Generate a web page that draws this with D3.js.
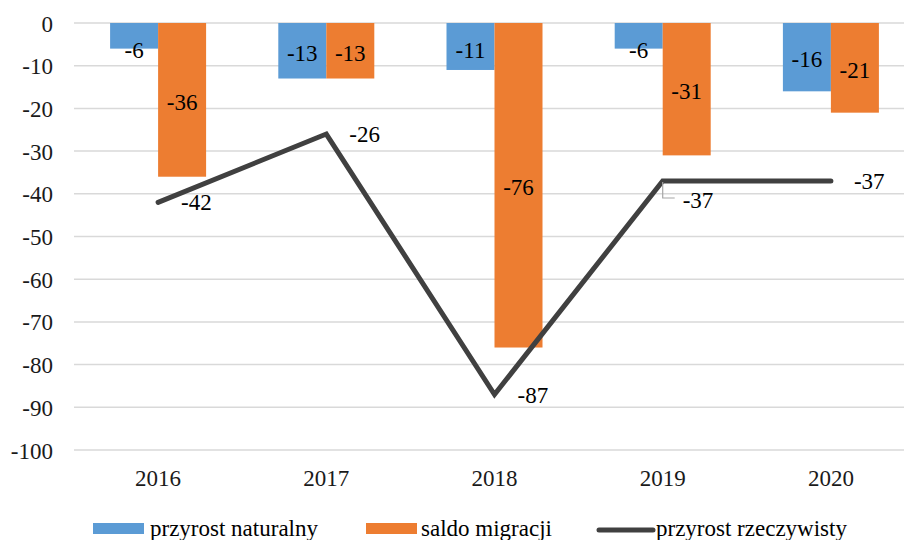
<!DOCTYPE html>
<html>
<head>
<meta charset="utf-8">
<script src="https://cdn.jsdelivr.net/npm/d3@7"></script>
<style>
  html, body { margin: 0; padding: 0; background: #fff; }
  svg { display: block; overflow: hidden; }
</style>
</head>
<body>
<svg id="chart" width="904" height="540"></svg>
<script>
const years = ["2016", "2017", "2018", "2019", "2020"];
const naturalny = [-6, -13, -11, -6, -16];
const migracji = [-36, -13, -76, -31, -21];
const rzeczywisty = [-42, -26, -87, -37, -37];
const seriesNames = ["przyrost naturalny", "saldo migracji", "przyrost rzeczywisty"];
const yTicks = [0, -10, -20, -30, -40, -50, -60, -70, -80, -90, -100];

const colors = { nat: "#5b9bd5", mig: "#ed7d31", line: "#404040", grid: "#d9d9d9" };
const FONT = "'Liberation Serif', 'Tinos', 'DejaVu Serif', 'Times New Roman', serif";
const fmt = v => String(v); // hyphen-minus as in the reference
const svg = d3.select("#chart").attr("font-family", FONT);
const fontSize = 23;

const plotLeft = 74, step = 168.2;
const x = d3.scaleBand().domain(years).range([plotLeft, plotLeft + step * years.length]).padding(0);
const groupW = 96;
const xs = d3.scaleBand().domain(["nat", "mig"]).range([0, groupW]);
const off = (x.bandwidth() - groupW) / 2;
const y = d3.scaleLinear().domain([-100, 0]).range([450, 23]);

// gridlines
svg.append("g").selectAll("line").data(yTicks).join("line")
  .attr("x1", plotLeft).attr("x2", 904)
  .attr("y1", d => y(d)).attr("y2", d => y(d))
  .attr("stroke", colors.grid).attr("stroke-width", 1.5);

// y axis labels
const yAxis = d3.axisLeft(y).tickValues(yTicks).tickSize(0).tickPadding(0).tickFormat(fmt);
const ga = svg.append("g").attr("transform", "translate(53,0)").call(yAxis);
ga.attr("font-family", FONT).attr("font-size", fontSize);
ga.select(".domain").remove();
ga.selectAll("text").attr("fill", "#1a1a1a").attr("dy", "0.35em");

// x axis labels
const xAxis = d3.axisBottom(x).tickSize(0).tickPadding(0);
const gx = svg.append("g").attr("transform", "translate(0,478)").call(xAxis);
gx.attr("font-family", FONT).attr("font-size", fontSize);
gx.select(".domain").remove();
gx.selectAll("text").attr("fill", "#1a1a1a").attr("dy", "0.35em");

// bars
const barData = [];
years.forEach((yr, i) => {
  barData.push({ yr, key: "nat", v: naturalny[i] });
  barData.push({ yr, key: "mig", v: migracji[i] });
});
svg.append("g").selectAll("rect").data(barData).join("rect")
  .attr("x", d => x(d.yr) + off + xs(d.key))
  .attr("width", xs.bandwidth())
  .attr("y", y(0))
  .attr("height", d => y(d.v) - y(0))
  .attr("fill", d => colors[d.key]);

// bar labels
svg.append("g").attr("font-family", FONT).selectAll("text").data(barData).join("text")
  .attr("x", d => x(d.yr) + off + xs(d.key) + xs.bandwidth() / 2)
  .attr("y", d => Math.max((y(0) + y(d.v)) / 2 + 2, y(0) + 27))
  .attr("dy", "0.35em")
  .attr("text-anchor", "middle")
  .attr("font-size", fontSize).attr("fill", "#000")
  .text(d => fmt(d.v));

// line
const cx = yr => x(yr) + x.bandwidth() / 2;
const lineGen = d3.line().x((d, i) => cx(years[i])).y(d => y(d));
svg.append("path").datum(rzeczywisty)
  .attr("d", lineGen).attr("fill", "none")
  .attr("stroke", colors.line).attr("stroke-width", 5)
  .attr("stroke-linejoin", "miter").attr("stroke-linecap", "round");

// line labels (2019 label displaced downward with leader)
const lineLabels = svg.append("g").attr("font-family", FONT);
rzeczywisty.forEach((v, i) => {
  const px = cx(years[i]), py = y(v);
  let lx = px + 23, ly = py;
  if (i === 3) {
    lx = px + 20; ly = py + 19;
    lineLabels.append("path")
      .attr("d", `M${px},${py + 1}V${ly - 2}H${px + 12}`)
      .attr("fill", "none").attr("stroke", "#a6a6a6").attr("stroke-width", 1.2);
  }
  lineLabels.append("text")
    .attr("x", lx).attr("y", ly).attr("dy", "0.35em")
    .attr("font-size", fontSize).attr("fill", "#000")
    .text(fmt(v));
});

// legend
const lg = svg.append("g").attr("font-family", FONT);
const legendItems = [
  { name: seriesNames[0], type: "rect", color: colors.nat, x0: 93, x1: 144, tx: 150 },
  { name: seriesNames[1], type: "rect", color: colors.mig, x0: 366, x1: 417, tx: 421 },
  { name: seriesNames[2], type: "line", color: colors.line, x0: 599, x1: 653, tx: 656 }
];
legendItems.forEach(it => {
  if (it.type === "rect") {
    lg.append("rect").attr("x", it.x0).attr("y", 523).attr("width", it.x1 - it.x0).attr("height", 11)
      .attr("fill", it.color);
  } else {
    lg.append("line").attr("x1", it.x0).attr("x2", it.x1).attr("y1", 530).attr("y2", 530)
      .attr("stroke", it.color).attr("stroke-width", 5).attr("stroke-linecap", "round");
  }
  lg.append("text").attr("x", it.tx).attr("y", 536)
    .attr("font-size", fontSize).attr("fill", "#000").text(it.name);
});
</script>
</body>
</html>
